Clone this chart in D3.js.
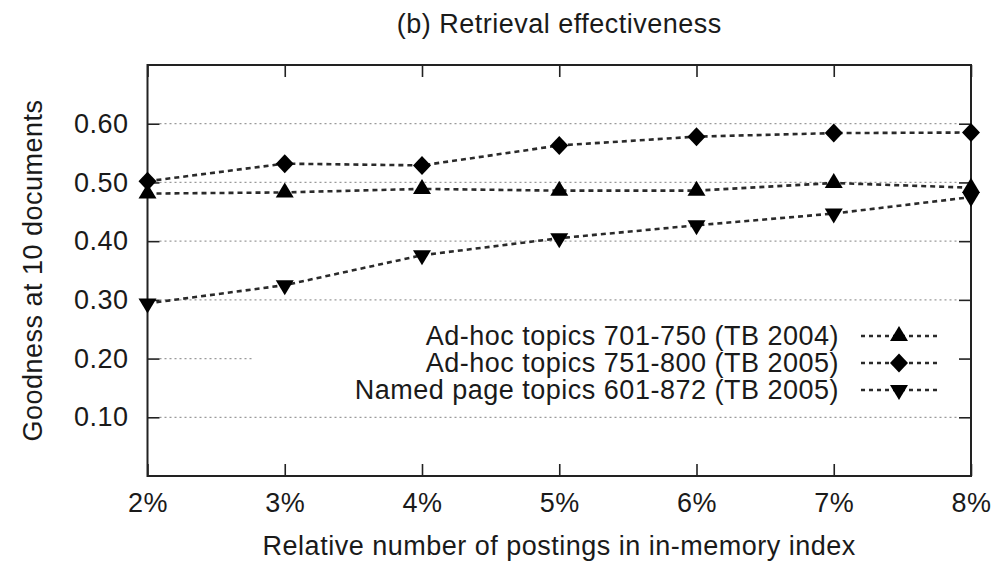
<!DOCTYPE html>
<html>
<head>
<meta charset="utf-8">
<script src="https://cdn.jsdelivr.net/npm/d3@7"></script>
<style>
  html, body { margin: 0; padding: 0; background: #fff; }
  svg { display: block; }
  text { font-family: "Liberation Sans", Arial, Helvetica, sans-serif; fill: #1a1a1a; letter-spacing: 0.5px; }
</style>
</head>
<body>
<svg id="chart" width="1004" height="561"></svg>
<script>
// ---- data ----
const xValues = [2, 3, 4, 5, 6, 7, 8];
const xTickLabels = ["2%", "3%", "4%", "5%", "6%", "7%", "8%"];
const yTickValues = [0.10, 0.20, 0.30, 0.40, 0.50, 0.60];
const seriesNames = [
  "Ad-hoc topics 701-750 (TB 2004)",
  "Ad-hoc topics 751-800 (TB 2005)",
  "Named page topics 601-872 (TB 2005)"
];
const adhoc2004 = [0.481, 0.483, 0.489, 0.486, 0.486, 0.499, 0.491];
const adhoc2005 = [0.502, 0.532, 0.529, 0.563, 0.578, 0.584, 0.585];
const named2005 = [0.294, 0.325, 0.376, 0.405, 0.427, 0.447, 0.475];
const seriesMarkers = ["triUp", "diamond", "triDown"];
const titleText = "(b) Retrieval effectiveness";
const xTitle = "Relative number of postings in in-memory index";
const yTitle = "Goodness at 10 documents";

// ---- layout ----
const plotL = 147.5, plotR = 971, plotT = 65, plotB = 476;
const FS = 27;
const tickLen = 12;

const svg = d3.select("#chart");
const x = d3.scaleLinear().domain([2, 8]).range([plotL, plotR]);
const y = d3.scaleLinear().domain([0, 0.7]).range([plotB, plotT]);

// grid lines
const gridG = svg.append("g");
gridG.selectAll("line").data(yTickValues).enter().append("line")
  .attr("x1", plotL + tickLen).attr("x2", plotR - tickLen)
  .attr("y1", d => y(d)).attr("y2", d => y(d))
  .attr("stroke", "#9a9a9a").attr("stroke-width", 1.3)
  .attr("stroke-dasharray", "2,3");

// legend background (clears grid behind key)
svg.append("rect")
  .attr("x", 253).attr("y", 318).attr("width", plotR - tickLen - 253).attr("height", 86)
  .attr("fill", "#fff");

// axes
function styleAxis(g, hideText) {
  g.select(".domain").remove();
  g.selectAll(".tick line").attr("stroke", "#222").attr("stroke-width", 1.6);
  g.selectAll(".tick text").style("font-size", FS + "px").attr("fill", "#1a1a1a");
  if (hideText) g.selectAll(".tick text").remove();
}
const xAxisB = d3.axisBottom(x).tickValues(xValues)
  .tickFormat((d, i) => xTickLabels[i]).tickSize(-tickLen).tickPadding(17);
const xAxisT = d3.axisTop(x).tickValues(xValues).tickSize(-tickLen).tickFormat("");
const yAxisL = d3.axisLeft(y).tickValues(yTickValues)
  .tickFormat(d3.format(".2f")).tickSize(-tickLen).tickPadding(19);
const yAxisR = d3.axisRight(y).tickValues(yTickValues).tickSize(-tickLen).tickFormat("");

svg.append("g").attr("transform", `translate(0,${plotB})`).call(xAxisB).call(g => styleAxis(g, false));
svg.append("g").attr("transform", `translate(0,${plotT})`).call(xAxisT).call(g => styleAxis(g, true));
svg.append("g").attr("transform", `translate(${plotL},0)`).call(yAxisL).call(g => styleAxis(g, false));
svg.append("g").attr("transform", `translate(${plotR},0)`).call(yAxisR).call(g => styleAxis(g, true));

// frame
svg.append("rect")
  .attr("x", plotL).attr("y", plotT).attr("width", plotR - plotL).attr("height", plotB - plotT)
  .attr("fill", "none").attr("stroke", "#222").attr("stroke-width", 2);

// markers
function markerPath(type) {
  if (type === "triUp") return "M0,-10L9,5L-9,5Z";
  if (type === "triDown") return "M0,10L9,-5L-9,-5Z";
  return "M0,-9.5L9,0L0,9.5L-9,0Z";
}

const allSeries = [adhoc2004, adhoc2005, named2005];
const line = d3.line().x((d, i) => x(xValues[i])).y(d => y(d));

allSeries.forEach((vals, si) => {
  svg.append("path").datum(vals)
    .attr("d", line)
    .attr("fill", "none").attr("stroke", "#2a2a2a")
    .attr("stroke-width", 2.6).attr("stroke-dasharray", "5,4");
});
allSeries.forEach((vals, si) => {
  svg.append("g").selectAll("path").data(vals).enter().append("path")
    .attr("d", markerPath(seriesMarkers[si]))
    .attr("transform", (d, i) => `translate(${x(xValues[i])},${y(d)})`)
    .attr("fill", "#000");
});

// legend
const legRowY = [336, 363, 390];
const legTextX = 839, legLineX1 = 861, legLineX2 = 937, legMarkX = 899;
seriesNames.forEach((name, i) => {
  svg.append("text")
    .attr("x", legTextX).attr("y", legRowY[i]).attr("dy", "0.35em")
    .attr("text-anchor", "end").style("font-size", FS + "px")
    .text(name);
  svg.append("line")
    .attr("x1", legLineX1).attr("x2", legLineX2)
    .attr("y1", legRowY[i]).attr("y2", legRowY[i])
    .attr("stroke", "#2a2a2a").attr("stroke-width", 2.6).attr("stroke-dasharray", "4,4");
  svg.append("path")
    .attr("d", markerPath(seriesMarkers[i]))
    .attr("transform", `translate(${legMarkX},${legRowY[i]})`)
    .attr("fill", "#000");
});

// titles
svg.append("text")
  .attr("x", (plotL + plotR) / 2).attr("y", 33)
  .attr("text-anchor", "middle").style("font-size", FS + "px")
  .text(titleText);
svg.append("text")
  .attr("x", (plotL + plotR) / 2).attr("y", 555)
  .attr("text-anchor", "middle").style("font-size", FS + "px")
  .text(xTitle);
svg.append("text")
  .attr("transform", `translate(42,${(plotT + plotB) / 2}) rotate(-90)`)
  .attr("text-anchor", "middle").style("font-size", FS + "px")
  .text(yTitle);
</script>
</body>
</html>
